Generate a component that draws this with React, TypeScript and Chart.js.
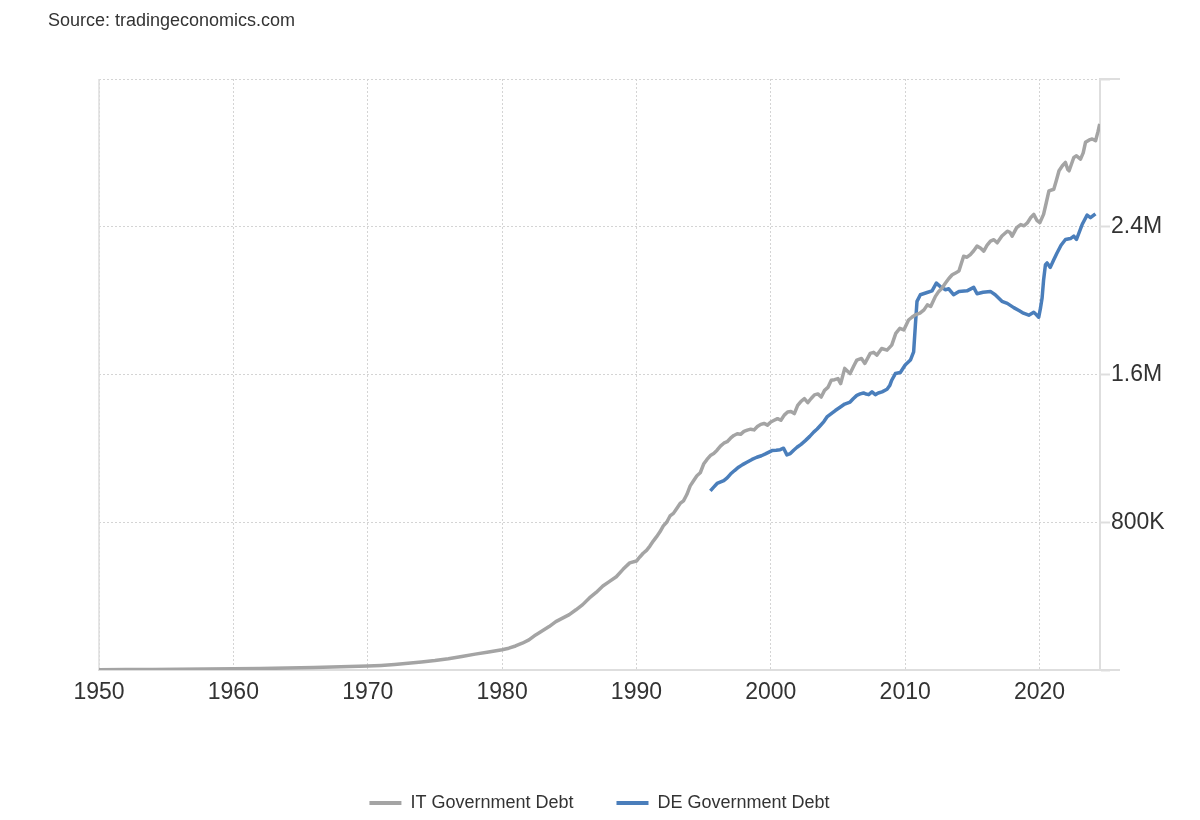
import React, { useEffect, useRef } from 'react';
import { Chart, registerables } from 'chart.js';

Chart.register(...registerables);

const SOURCE_TEXT = 'Source: tradingeconomics.com';
const IT_LABEL = 'IT Government Debt';
const DE_LABEL = 'DE Government Debt';

const X_TICKS = [1950, 1960, 1970, 1980, 1990, 2000, 2010, 2020];
const Y_TICKS = [0, 800000, 1600000, 2400000, 3200000];
const Y_TICK_LABELS = ['', '800K', '1.6M', '2.4M', ''];

const IT_YEARS = [
  1950, 1952, 1954, 1956, 1958, 1960, 1962, 1964, 1966, 1968,
  1970, 1971, 1972, 1973, 1974, 1975, 1976, 1977, 1978, 1979,
  1980, 1980.5, 1981, 1981.5, 1982, 1982.5, 1983, 1983.5, 1984, 1984.5,
  1985, 1985.5, 1986, 1986.5, 1987, 1987.5, 1988, 1988.5, 1989, 1989.5,
  1990, 1990.25, 1990.5, 1990.75, 1991, 1991.25, 1991.5, 1991.75,
  1992, 1992.25, 1992.5, 1992.75, 1993, 1993.25, 1993.5, 1993.75,
  1994, 1994.25, 1994.5, 1994.75, 1995, 1995.25, 1995.5, 1995.75,
  1996, 1996.25, 1996.5, 1996.75, 1997, 1997.25, 1997.5, 1997.75,
  1998, 1998.25, 1998.5, 1998.75, 1999, 1999.25, 1999.5, 1999.75,
  2000, 2000.25, 2000.5, 2000.75, 2001, 2001.25, 2001.5, 2001.75,
  2002, 2002.25, 2002.5, 2002.75, 2003, 2003.25, 2003.5, 2003.75,
  2004, 2004.25, 2004.5, 2004.75, 2005, 2005.2, 2005.5, 2005.75, 2005.9,
  2006.2, 2006.4, 2006.75, 2007, 2007.4, 2007.65, 2007.9,
  2008.25, 2008.65, 2009, 2009.3, 2009.6, 2009.9,
  2010.25, 2010.5, 2010.75, 2011.1, 2011.4, 2011.65, 2011.9,
  2012.25, 2012.5, 2012.75, 2013, 2013.25, 2013.5, 2013.75,
  2014, 2014.35, 2014.6, 2014.85, 2015.1, 2015.35, 2015.6, 2015.85,
  2016.1, 2016.35, 2016.6, 2016.85, 2017.2, 2017.6, 2017.8, 2017.96,
  2018.3, 2018.6, 2018.85, 2019.1, 2019.35, 2019.57, 2019.8,
  2020.02, 2020.3, 2020.5, 2020.7, 2021.06, 2021.25, 2021.45, 2021.7, 2021.93,
  2022.1, 2022.2, 2022.55, 2022.75, 2023.05, 2023.25, 2023.42, 2023.7, 2023.92,
  2024.17, 2024.35, 2024.48,
];
const IT_VALUES = [
  1800, 2500, 3300, 4300, 5400, 6700, 8200, 10500, 13500, 17000,
  21500, 25000, 30000, 36000, 43000, 51000, 61000, 73000, 86000, 98000,
  110000, 118000, 130000, 145000, 163000, 190000, 212000, 235000, 262000, 281000,
  300000, 326000, 354000, 390000, 420000, 455000, 480000, 505000, 545000, 580000,
  590000, 612000, 632000, 648000, 671000, 698000, 722000, 748000,
  780000, 800000, 834000, 848000, 875000, 902000, 916000, 950000,
  997000, 1025000, 1052000, 1068000, 1115000, 1140000, 1161000, 1172000,
  1190000, 1212000, 1228000, 1236000, 1255000, 1270000, 1279000, 1276000,
  1292000, 1299000, 1304000, 1300000, 1318000, 1330000, 1335000, 1326000,
  1343000, 1352000, 1361000, 1352000, 1380000, 1397000, 1400000, 1388000,
  1433000, 1455000, 1469000, 1448000, 1470000, 1490000, 1495000, 1478000,
  1514000, 1530000, 1569000, 1572000, 1578000, 1551000, 1633000, 1615000, 1605000,
  1650000, 1678000, 1687000, 1660000, 1714000, 1720000, 1705000,
  1741000, 1732000, 1759000, 1823000, 1850000, 1841000,
  1895000, 1910000, 1923000, 1932000, 1950000, 1977000, 1968000,
  2023000, 2050000, 2068000, 2095000, 2120000, 2140000, 2150000,
  2160000, 2240000, 2235000, 2249000, 2270000, 2295000, 2285000, 2268000,
  2300000, 2322000, 2330000, 2313000, 2350000, 2376000, 2370000, 2349000,
  2395000, 2412000, 2405000, 2422000, 2450000, 2467000, 2435000,
  2422000, 2467000, 2530000, 2594000, 2603000, 2650000, 2703000, 2730000, 2748000,
  2710000, 2703000, 2775000, 2784000, 2766000, 2800000, 2857000, 2870000, 2875000,
  2866000, 2915000, 2957000,
];

const DE_YEARS = [
  1995.5, 1995.75, 1996, 1996.5, 1996.75, 1997, 1997.3, 1997.6, 1997.9,
  1998.22, 1998.6, 1998.96, 1999.3, 1999.6, 2000.09, 2000.4, 2000.7, 2000.95,
  2001.2, 2001.45, 2001.7, 2001.95, 2002.25, 2002.57, 2002.9, 2003.19, 2003.45,
  2003.69, 2003.95, 2004.18, 2004.5, 2004.8, 2005.18, 2005.5, 2005.9, 2006.15,
  2006.4, 2006.65, 2006.9, 2007.1, 2007.28, 2007.53, 2007.78, 2008, 2008.28,
  2008.65, 2008.85, 2009, 2009.27, 2009.64, 2010, 2010.39, 2010.63, 2010.76,
  2010.88, 2011.13, 2011.63, 2012, 2012.32, 2012.6, 2013, 2013.24, 2013.6,
  2014, 2014.6, 2015.1, 2015.35, 2015.8, 2016.34, 2016.7, 2017.2, 2017.6,
  2018.08, 2018.5, 2018.8, 2019.2, 2019.57, 2019.75, 2019.94, 2020.07, 2020.19,
  2020.3, 2020.44, 2020.56, 2020.8, 2021.05, 2021.3, 2021.6, 2021.93, 2022.3,
  2022.55, 2022.75, 2023.17, 2023.54, 2023.79, 2024.16,
];
const DE_VALUES = [
  970000, 990000, 1010000, 1025000, 1040000, 1061000, 1080000, 1098000, 1112000,
  1125000, 1140000, 1152000, 1160000, 1170000, 1188000, 1190000, 1193000, 1201000,
  1165000, 1172000, 1190000, 1206000, 1222000, 1242000, 1265000, 1288000, 1305000,
  1324000, 1345000, 1370000, 1388000, 1405000, 1424000, 1440000, 1451000, 1470000,
  1487000, 1495000, 1500000, 1494000, 1491000, 1506000, 1491000, 1500000, 1506000,
  1520000, 1540000, 1569000, 1605000, 1611000, 1651000, 1678000, 1723000, 1868000,
  1996000, 2032000, 2044000, 2053000, 2095000, 2077000, 2059000, 2064000, 2032000,
  2050000, 2053000, 2072000, 2037000, 2045000, 2050000, 2032000, 1996000, 1985000,
  1962000, 1945000, 1932000, 1921000, 1937000, 1925000, 1910000, 1959000, 2014000,
  2110000, 2195000, 2204000, 2180000, 2220000, 2258000, 2300000, 2331000, 2336000,
  2349000, 2331000, 2412000, 2463000, 2449000, 2470000,
];

const IT_COLOR = '#a4a4a4';
const DE_COLOR = '#4a7ebb';
const GRID_COLOR = '#d4d4d4';
const AXIS_COLOR = '#dedede';
const TEXT_COLOR = '#333333';
const FONT_FAMILY = '"Liberation Sans", Arial, Helvetica, sans-serif';

const framePlugin = {
  id: 'frameLines',
  beforeDatasetsDraw(chart: any) {
    const { ctx, chartArea } = chart;
    ctx.save();
    ctx.strokeStyle = AXIS_COLOR;
    ctx.lineWidth = 1.5;
    ctx.beginPath();
    ctx.moveTo(chartArea.left, chartArea.top);
    ctx.lineTo(chartArea.left, chartArea.bottom);
    ctx.stroke();
    ctx.lineWidth = 2;
    ctx.beginPath();
    ctx.moveTo(chartArea.right, chartArea.top);
    ctx.lineTo(chartArea.right + 20, chartArea.top);
    ctx.moveTo(chartArea.right, chartArea.bottom);
    ctx.lineTo(chartArea.right + 20, chartArea.bottom);
    ctx.stroke();
    ctx.restore();
  },
};

export default function App() {
  const ref = useRef<HTMLCanvasElement>(null);

  useEffect(() => {
    Chart.defaults.font.family = FONT_FAMILY;
    const itData = IT_YEARS.map((x, i) => ({ x, y: IT_VALUES[i] }));
    const deData = DE_YEARS.map((x, i) => ({ x, y: DE_VALUES[i] }));

    const chart = new Chart(ref.current as HTMLCanvasElement, {
      type: 'line',
      data: {
        datasets: [
          {
            label: IT_LABEL,
            data: itData,
            borderColor: IT_COLOR,
            backgroundColor: IT_COLOR,
            borderWidth: 3.5,
            pointRadius: 0,
            tension: 0,
            borderJoinStyle: 'round',
          },
          {
            label: DE_LABEL,
            data: deData,
            borderColor: DE_COLOR,
            backgroundColor: DE_COLOR,
            borderWidth: 3.5,
            pointRadius: 0,
            tension: 0,
            borderJoinStyle: 'round',
          },
        ],
      },
      options: {
        responsive: false,
        animation: false,
        devicePixelRatio: 1,
        layout: { padding: { left: 99, top: 79, right: 0, bottom: 0 } },
        plugins: {
          tooltip: { enabled: false },
          legend: {
            position: 'bottom',
            fullSize: false,
            labels: {
              boxWidth: 32,
              boxHeight: 4,
              padding: 43,
              color: TEXT_COLOR,
              font: { size: 18, family: FONT_FAMILY },
              generateLabels: (c: any) =>
                Chart.defaults.plugins.legend.labels
                  .generateLabels(c)
                  .map((l: any) => ({ ...l, lineWidth: 0, fillStyle: l.strokeStyle })),
            },
          },
        },
        scales: {
          x: {
            type: 'linear',
            min: 1950,
            max: 2024.5,
            afterBuildTicks: (s: any) => {
              s.ticks = X_TICKS.map((v) => ({ value: v }));
            },
            afterFit: (s: any) => {
              s.height = 81;
            },
            grid: { color: GRID_COLOR, lineWidth: 1, drawTicks: false },
            border: { display: true, color: AXIS_COLOR, width: 2, dash: [2, 2] },
            ticks: {
              padding: 9,
              color: TEXT_COLOR,
              font: { size: 23, family: FONT_FAMILY },
              maxRotation: 0,
              autoSkip: false,
              callback: (v: any) => String(v),
            },
          },
          y: {
            type: 'linear',
            position: 'right',
            min: 0,
            max: 3200000,
            afterBuildTicks: (s: any) => {
              s.ticks = Y_TICKS.map((v) => ({ value: v }));
            },
            afterFit: (s: any) => {
              s.width = 100;
            },
            grid: {
              color: GRID_COLOR,
              lineWidth: 1,
              drawTicks: true,
              tickLength: 10,
              tickColor: AXIS_COLOR,
              tickWidth: 2,
            },
            border: { display: true, color: AXIS_COLOR, width: 2, dash: [2, 2] },
            ticks: {
              padding: 1,
              color: TEXT_COLOR,
              font: { size: 23, family: FONT_FAMILY },
              callback: (v: any) => {
                const idx = Y_TICKS.indexOf(Number(v));
                return idx >= 0 ? Y_TICK_LABELS[idx] : '';
              },
            },
          },
        },
      },
      plugins: [framePlugin],
    } as any);

    return () => chart.destroy();
  }, []);

  return (
    <div
      style={{
        position: 'fixed',
        left: 0,
        top: 0,
        width: 1200,
        height: 822,
        background: '#ffffff',
        overflow: 'hidden',
      }}
    >
      <canvas
        ref={ref}
        width={1200}
        height={822}
        style={{ position: 'absolute', left: 0, top: 0, width: 1200, height: 822 }}
      />
      <div
        style={{
          position: 'absolute',
          left: 48,
          top: 10,
          fontFamily: FONT_FAMILY,
          fontSize: 18,
          color: TEXT_COLOR,
          whiteSpace: 'nowrap',
        }}
      >
        {SOURCE_TEXT}
      </div>
    </div>
  );
}
